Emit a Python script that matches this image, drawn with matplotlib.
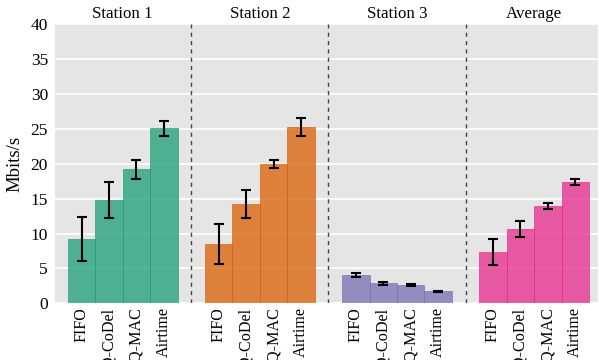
import matplotlib
matplotlib.use('Agg')
import matplotlib.pyplot as plt
import numpy as np

plt.rcParams['font.family'] = ['Liberation Serif', 'DejaVu Serif']

groups = ['Station 1', 'Station 2', 'Station 3', 'Average']
schemes = ['FIFO', 'FQ-CoDel', 'FQ-MAC', 'Airtime']
colors = ['#1b9e77', '#d95f02', '#7570b3', '#e7298a']

# mean throughput per group, one entry per scheme
means = [
    [9.2, 14.8, 19.2, 25.1],
    [8.5, 14.2, 20.0, 25.3],
    [4.05, 2.85, 2.6, 1.75],
    [7.35, 10.65, 13.95, 17.4],
]
errs = [
    [3.15, 2.55, 1.4, 1.1],
    [2.9, 2.0, 0.6, 1.3],
    [0.3, 0.25, 0.1, 0.08],
    [1.8, 1.2, 0.45, 0.4],
]

fig = plt.figure(figsize=(5.99, 3.6), dpi=100)
ax = fig.add_axes([55 / 599, 56.7 / 360, 543 / 599, 279 / 360])
ax.set_facecolor('#e5e5e5')
for s in ax.spines.values():
    s.set_visible(False)
ax.set_axisbelow(True)
ax.yaxis.grid(True, color='white', linewidth=1.2)

ticks = []
labels = []
for g, (name, m, e) in enumerate(zip(groups, means, errs)):
    x = np.arange(4) + g * 5
    ax.bar(x, m, width=1.0, color=colors[g], edgecolor=colors[g], alpha=0.75, linewidth=0.6)
    ax.errorbar(x, m, yerr=e, fmt='none', ecolor='black', elinewidth=1.5,
                capsize=3.5, capthick=1.5)
    ax.text(x.mean(), 40.35, name, ha='center', va='bottom', fontsize=12.2)
    ticks.extend(x)
    labels.extend(schemes)
    if g < 3:
        ax.axvline(g * 5 + 4, color='#444444', linewidth=1, linestyle=(0, (3, 3)))

ax.set_xticks(ticks)
ax.set_xticklabels(labels, rotation=90)
ax.set_xlim(-0.97, 18.83)
ax.set_ylim(0, 40)
ax.set_yticks(range(0, 41, 5))
ax.tick_params(axis='both', length=0)
ax.tick_params(axis='x', pad=3, labelsize=11.6)
ax.tick_params(axis='y', pad=5, labelsize=12.5)
ax.set_ylabel('Mbits/s', fontsize=13.5, labelpad=5)

fig.savefig('out.png', dpi=100)
